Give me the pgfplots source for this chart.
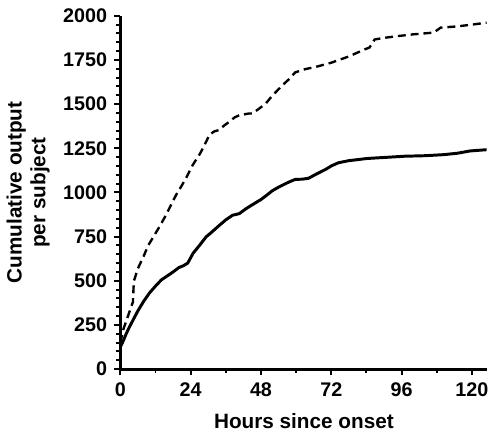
\documentclass[border=0pt]{standalone}
\usepackage{fontspec}
\setmainfont{Liberation Sans}
\usepackage{pgfplots}
\pgfplotsset{compat=1.18}
\usetikzlibrary{calc}

\begin{document}
\begin{tikzpicture}
\begin{axis}[
  name=ax,
  scale only axis,
  width=186pt, height=179pt,
  xmin=0, xmax=125.3,
  ymin=0, ymax=2000,
  axis lines*=left,
  axis line style={line width=1.5pt},
  xtick={0,24,48,72,96,120},
  ytick={0,250,500,750,1000,1250,1500,1750,2000},
  minor x tick num=1,
  minor y tick num=4,
  tick align=outside,
  major tick length=3.2pt,
  minor tick length=2pt,
  every tick/.style={black, line width=1pt},
  tick label style={font=\fontsize{10}{11}\selectfont\bfseries},
  /pgf/number format/assume math mode=true,
  /pgf/number format/1000 sep={},
  xlabel={Hours since onset},
  ylabel={Cumulative output\\per subject},
  label style={font=\fontsize{10.5}{12}\selectfont\bfseries},
  ylabel style={align=center},
  xlabel style={yshift=-2pt},
  clip=false,
]
\addplot[black, line width=1.5pt, line join=round] coordinates {
(0,125)(1,160)(2,200)(3,235)(4.5,283)(6,330)(8,385)(10,432)(12,470)(14,505)
(15.8,525)(18,550)(20,575)(21.5,585)(23,600)(24.8,655)(27,700)(29.3,749)
(31.5,780)(33.8,814)(36,845)(38.3,871)(40.6,880)(42.8,907)(45,930)(48,960)
(50,985)(51.8,1009)(54,1030)(57,1055)(59.7,1074)(62,1075)(64.2,1080)
(67,1105)(70,1130)(72,1150)(74.4,1168)(78,1180)(81.1,1186)(84,1192)
(87.9,1196)(92,1200)(96.9,1205)(104,1208)(110.4,1214)(115,1222)
(119.4,1235)(125,1242)
};
\addplot[black, line width=1.2pt, dash pattern=on 4pt off 2.5pt] coordinates {
(0,150)(1.1,229)(4.3,380)(4.6,497)(6,570)(7.9,637)(9.5,700)(11.3,749)
(13.5,810)(15.8,879)(18,953)(19.2,991)(21,1040)(22.5,1084)(24.8,1158)
(27,1214)(28.5,1260)(30.4,1326)(32,1345)(33.8,1354)(35.5,1380)(37.2,1400)
(39,1425)(40.6,1437)(43.9,1447)(45,1447)(47,1470)(49.6,1503)(52,1550)
(55.2,1605)(57.5,1640)(59.7,1680)(63.1,1698)(67,1712)(72.1,1735)(78,1770)
(83.4,1810)(85,1820)(86.8,1866)(90,1875)(94.6,1885)(100,1895)(107,1905)
(109.3,1933)(115,1940)(120,1950)(125,1961)
};
\end{axis}
\path[use as bounding box] ($(ax.south west)+(-60pt,-29.5pt)$) rectangle ($(ax.north east)+(1.5pt,8pt)$);
\end{tikzpicture}
\end{document}
